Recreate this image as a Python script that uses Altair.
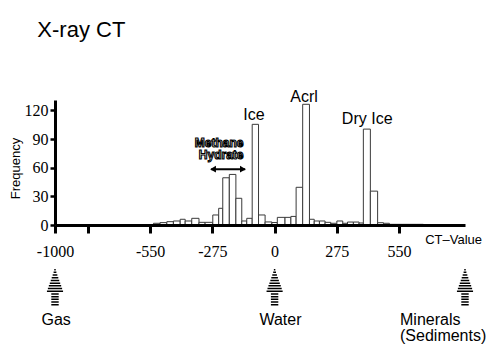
import altair as alt
import pandas as pd

# ---- histogram (bin edges in CT value units, counts) ----
bin_edges = [-535, -506, -476, -447, -417, -395, -366, -334, -307, -273,
             -247, -229, -200, -171, -145, -123, -99, -71, -42, -12,
             12, 46, 72, 95, 124, 154, 175, 198, 223, 248,
             275, 301, 322, 348, 373, 392, 423, 455, 481, 507,
             537, 566, 597, 627, 657]
counts = [1.8, 2.5, 3.5, 4.2, 6, 4.2, 7, 2.8, 2.8, 10.5,
          17.5, 49.5, 53, 28, 4.2, 7, 105.5, 10.5, 3.2, 2.6,
          8, 8, 9, 39.5, 126.5, 6, 4.2, 4.2, 2.8, 1.8,
          4.2, 1.8, 3.1, 3.1, 2.1, 100.5, 35.5, 2.4, 1.8, 0.7,
          0.7, 0.7, 0.7, 0.7]

# ---- axis ticks ----
x_ticks = [-970, -825, -550, -275, 0, 275, 550]
y_ticks = [0, 30, 60, 90, 120]

# ---- annotations (positions in data units: CT value, frequency) ----
peak_labels = ["Ice", "Acrl", "Dry Ice"]
peak_x = [-91, 130, 409]
peak_y = [110, 128.6, 105.7]

mh_labels = ["Methane", "Hydrate"]
mh_x = [-245, -236]
mh_y = [82, 69.5]

darrow_x = [-280, -130]
darrow_y = [58.5, 58.5]
dhead_x = [-272, -140]
dhead_shape = ["triangle-left", "triangle-right"]

title_text = ["X-ray CT"]
title_x = [-1048]
title_y = [196.6]

ctv_text = ["CT\u2013Value"]
ctv_x = [665]
ctv_y = [-20]

arrow_x = [-970, 0, 841]
arrow_y = [-64.8, -64.8, -64.8]

bottom_c_text = ["Gas", "Water"]
bottom_c_x = [-965, 26]
bottom_c_y = [-105, -105]

bottom_l_text = ["Minerals", "(Sediments)"]
bottom_l_x = [554, 554]
bottom_l_y = [-105, -121.3]

# ---- tables ----
bars = pd.DataFrame({"x": bin_edges[:-1], "x2": bin_edges[1:], "y": counts, "zero": [0] * len(counts)})
peaks = pd.DataFrame({"x": peak_x, "y": peak_y, "t": peak_labels})
mh = pd.DataFrame({"x": mh_x, "y": mh_y, "t": mh_labels})
dline = pd.DataFrame({"x": [darrow_x[0]], "x2": [darrow_x[1]], "y": [darrow_y[0]]})
dheads = pd.DataFrame({"x": dhead_x, "y": darrow_y, "s": dhead_shape})
ttl = pd.DataFrame({"x": title_x, "y": title_y, "t": title_text})
ctv = pd.DataFrame({"x": ctv_x, "y": ctv_y, "t": ctv_text})
arrows = pd.DataFrame({"x": arrow_x, "y": arrow_y})
bc = pd.DataFrame({"x": bottom_c_x, "y": bottom_c_y, "t": bottom_c_text})
bl = pd.DataFrame({"x": bottom_l_x, "y": bottom_l_y, "t": bottom_l_text})

xs = alt.Scale(domain=[-970, 841], nice=False, zero=False)
ys = alt.Scale(domain=[0, 131], nice=False, zero=False)

SANS = "Liberation Sans"
SERIF = "Liberation Serif"

x_axis = alt.Axis(
    values=x_ticks,
    labelExpr="datum.value == -970 ? '-1000' : (datum.value == -825 ? '' : '' + datum.value)",
    title=None, grid=False, domainColor="black", domainWidth=3,
    tickColor="black", tickWidth=3, tickSize=8,
    labelFont=SERIF, labelFontSize=16, labelColor="black", labelPadding=10,
    labelFlush=False, labelOverlap=False, zindex=1,
)
y_axis = alt.Axis(
    values=y_ticks, title="Frequency", grid=False,
    domainColor="black", domainWidth=3, tickColor="black", tickWidth=2.5, tickSize=5,
    labelFont=SERIF, labelFontSize=16, labelColor="black", labelPadding=2,
    titleFont=SANS, titleFontSize=13, titleFontWeight="normal", titleColor="black",
    titlePadding=2, titleY=68, zindex=1,
)

X = alt.X("x:Q", scale=xs, axis=x_axis)
Y = alt.Y("y:Q", scale=ys, axis=y_axis)

hist = alt.Chart(bars).mark_rect(fill="white", stroke="#3a3a3a", strokeWidth=1).encode(
    x=X, x2="x2:Q", y=Y, y2="zero:Q",
)

def tx(df, **kw):
    return alt.Chart(df).mark_text(**kw).encode(x=X, y=Y, text="t:N")

peak_layer = tx(peaks, font=SANS, fontSize=16, align="center", baseline="alphabetic", color="black")
mh_layer = tx(mh, font=SANS, fontSize=12, fontWeight="bold", align="center", baseline="alphabetic",
              fill="white", stroke="black", strokeWidth=1.1)
title_layer = tx(ttl, font=SANS, fontSize=22, align="left", baseline="alphabetic", color="black")
ctv_layer = tx(ctv, font=SANS, fontSize=13, align="left", baseline="alphabetic", color="black")
bc_layer = tx(bc, font=SANS, fontSize=16, align="center", baseline="alphabetic", color="black")
bl_layer = tx(bl, font=SANS, fontSize=16, align="left", baseline="alphabetic", color="black")

dline_layer = alt.Chart(dline).mark_rule(color="black", strokeWidth=2).encode(
    x=X, x2="x2:Q", y=Y
)
dhead_layer = alt.Chart(dheads).mark_point(filled=True, color="black", size=45, opacity=1).encode(
    x=X, y=Y, shape=alt.Shape("s:N", scale=None),
)

# striped upward arrow glyph (unit-square path)
segs = []
for i in range(14):
    yy = -0.93 + i * 0.146
    hw = 0.45 * (yy + 1) / 1.28 if yy < 0.28 else 0.2
    hw = max(hw, 0.04)
    segs.append(f"M{-hw:.3f},{yy:.3f}L{hw:.3f},{yy:.3f}")
arrow_path = "".join(segs)

arrow_layer = alt.Chart(arrows).mark_point(
    shape=arrow_path, size=1369, filled=False, stroke="black", strokeWidth=1.5, opacity=1
).encode(x=X, y=Y)

chart = alt.layer(
    hist, peak_layer, mh_layer, dline_layer, dhead_layer, title_layer, ctv_layer,
    arrow_layer, bc_layer, bl_layer,
).properties(
    width=410, height=125,
    autosize=alt.AutoSizeParams(type="none"),
    padding={"left": 55, "top": 100, "right": 33, "bottom": 129},
    background="white",
).configure_view(stroke=None)

chart.save("out.html", embed_options={"renderer": "svg", "actions": False})
